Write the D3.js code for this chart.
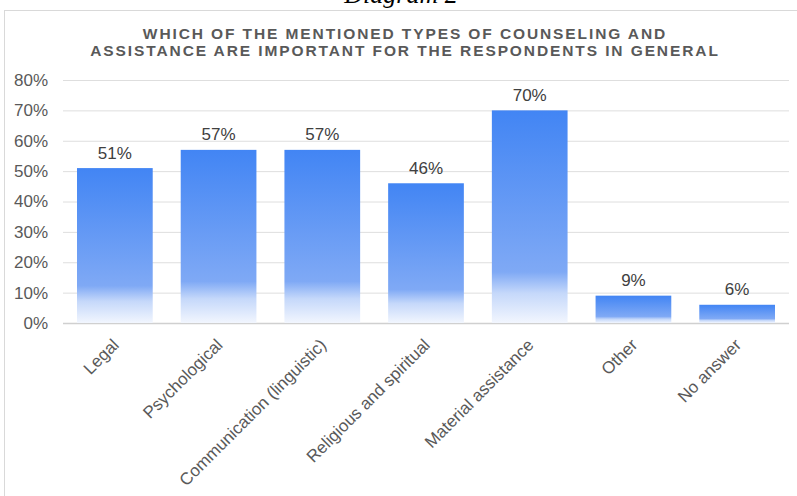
<!DOCTYPE html>
<html>
<head>
<meta charset="utf-8">
<script src="https://cdn.jsdelivr.net/npm/d3@7"></script>
<style>
  html, body { margin: 0; padding: 0; background: #fff; overflow: hidden; }
  svg { display: block; font-family: "Liberation Sans", Arial, sans-serif; }
</style>
</head>
<body>
<svg id="chart" width="797" height="496"></svg>
<script>
// Survey results: share of respondents naming each type of counseling
const categories = [
  "Legal",
  "Psychological",
  "Communication (linguistic)",
  "Religious and spiritual",
  "Material assistance",
  "Other",
  "No answer"
];
const values = [51, 57, 57, 46, 70, 9, 6];
const yTicks = [0, 10, 20, 30, 40, 50, 60, 70, 80];
const titleLines = [
  "WHICH OF THE MENTIONED TYPES OF COUNSELING AND",
  "ASSISTANCE ARE IMPORTANT FOR THE RESPONDENTS IN GENERAL"
];
const caption = "Diagram 2";

const svg = d3.select("#chart");
const plot = { left: 63, right: 789, top: 80, bottom: 323 };

// Caption above the chart frame
svg.append("text")
  .attr("x", 401).attr("y", 3)
  .attr("text-anchor", "middle")
  .attr("font-family", "'Liberation Serif', 'DejaVu Serif', serif")
  .attr("font-style", "italic")
  .attr("font-size", 26)
  .attr("fill", "#000")
  .text(caption);

// Chart frame
svg.append("rect")
  .attr("x", 4.5).attr("y", 10.5)
  .attr("width", 820).attr("height", 520)
  .attr("fill", "#fff")
  .attr("stroke", "#d9d9d9");

// Title
svg.append("g").selectAll("text")
  .data(titleLines)
  .join("text")
  .attr("x", 405)
  .attr("y", (d, i) => 38.5 + i * 17.3)
  .attr("text-anchor", "middle")
  .attr("font-weight", "bold")
  .attr("font-size", 15.5)
  .attr("letter-spacing", 1.9)
  .attr("fill", "#595959")
  .text(d => d);

const x = d3.scaleBand()
  .domain(categories)
  .range([plot.left, plot.right])
  .paddingInner(0.27)
  .paddingOuter(0.135);

const y = d3.scaleLinear()
  .domain([0, 80])
  .range([plot.bottom, plot.top]);

// Bar gradient: solid blue at top fading to near-white at the base
const defs = svg.append("defs");
const grad = defs.append("linearGradient")
  .attr("id", "barGrad")
  .attr("x1", 0).attr("y1", 0).attr("x2", 0).attr("y2", 1);
grad.append("stop").attr("offset", "0%").attr("stop-color", "#4285f4");
grad.append("stop").attr("offset", "76%").attr("stop-color", "#7fa9f5");
grad.append("stop").attr("offset", "86%").attr("stop-color", "#c5d8fa");
grad.append("stop").attr("offset", "100%").attr("stop-color", "#f2f6fe");

// Y axis with gridlines
const yAxis = d3.axisLeft(y)
  .tickValues(yTicks)
  .tickSize(-(plot.right - plot.left))
  .tickPadding(15)
  .tickFormat(d => d + "%");

const yg = svg.append("g")
  .attr("transform", `translate(${plot.left},0)`)
  .call(yAxis);
yg.select(".domain").remove();
yg.selectAll(".tick line")
  .attr("stroke", d => d === 0 ? "#d0d0d0" : "#dedede")
  .attr("stroke-width", d => d === 0 ? 1.5 : 1);
yg.selectAll(".tick text")
  .attr("font-size", 17)
  .attr("fill", "#595959");

// Bars
svg.append("g").selectAll("rect")
  .data(values)
  .join("rect")
  .attr("x", (d, i) => x(categories[i]))
  .attr("y", d => y(d))
  .attr("width", x.bandwidth())
  .attr("height", d => y(0) - y(d))
  .attr("fill", "url(#barGrad)");

// Value labels
svg.append("g").selectAll("text")
  .data(values)
  .join("text")
  .attr("x", (d, i) => x(categories[i]) + x.bandwidth() / 2)
  .attr("y", d => y(d) - 9.5)
  .attr("text-anchor", "middle")
  .attr("font-size", 17)
  .attr("fill", "#404040")
  .text(d => d + "%");

// X axis category labels, rotated
const xAxis = d3.axisBottom(x).tickSize(0).tickPadding(0);
const xg = svg.append("g")
  .attr("transform", `translate(0,${plot.bottom})`)
  .call(xAxis);
xg.select(".domain").remove();
xg.selectAll(".tick text")
  .attr("font-size", 17)
  .attr("fill", "#595959")
  .attr("text-anchor", "end")
  .attr("dy", 0)
  .attr("transform", "translate(5,23) rotate(-45)");
</script>
</body>
</html>
